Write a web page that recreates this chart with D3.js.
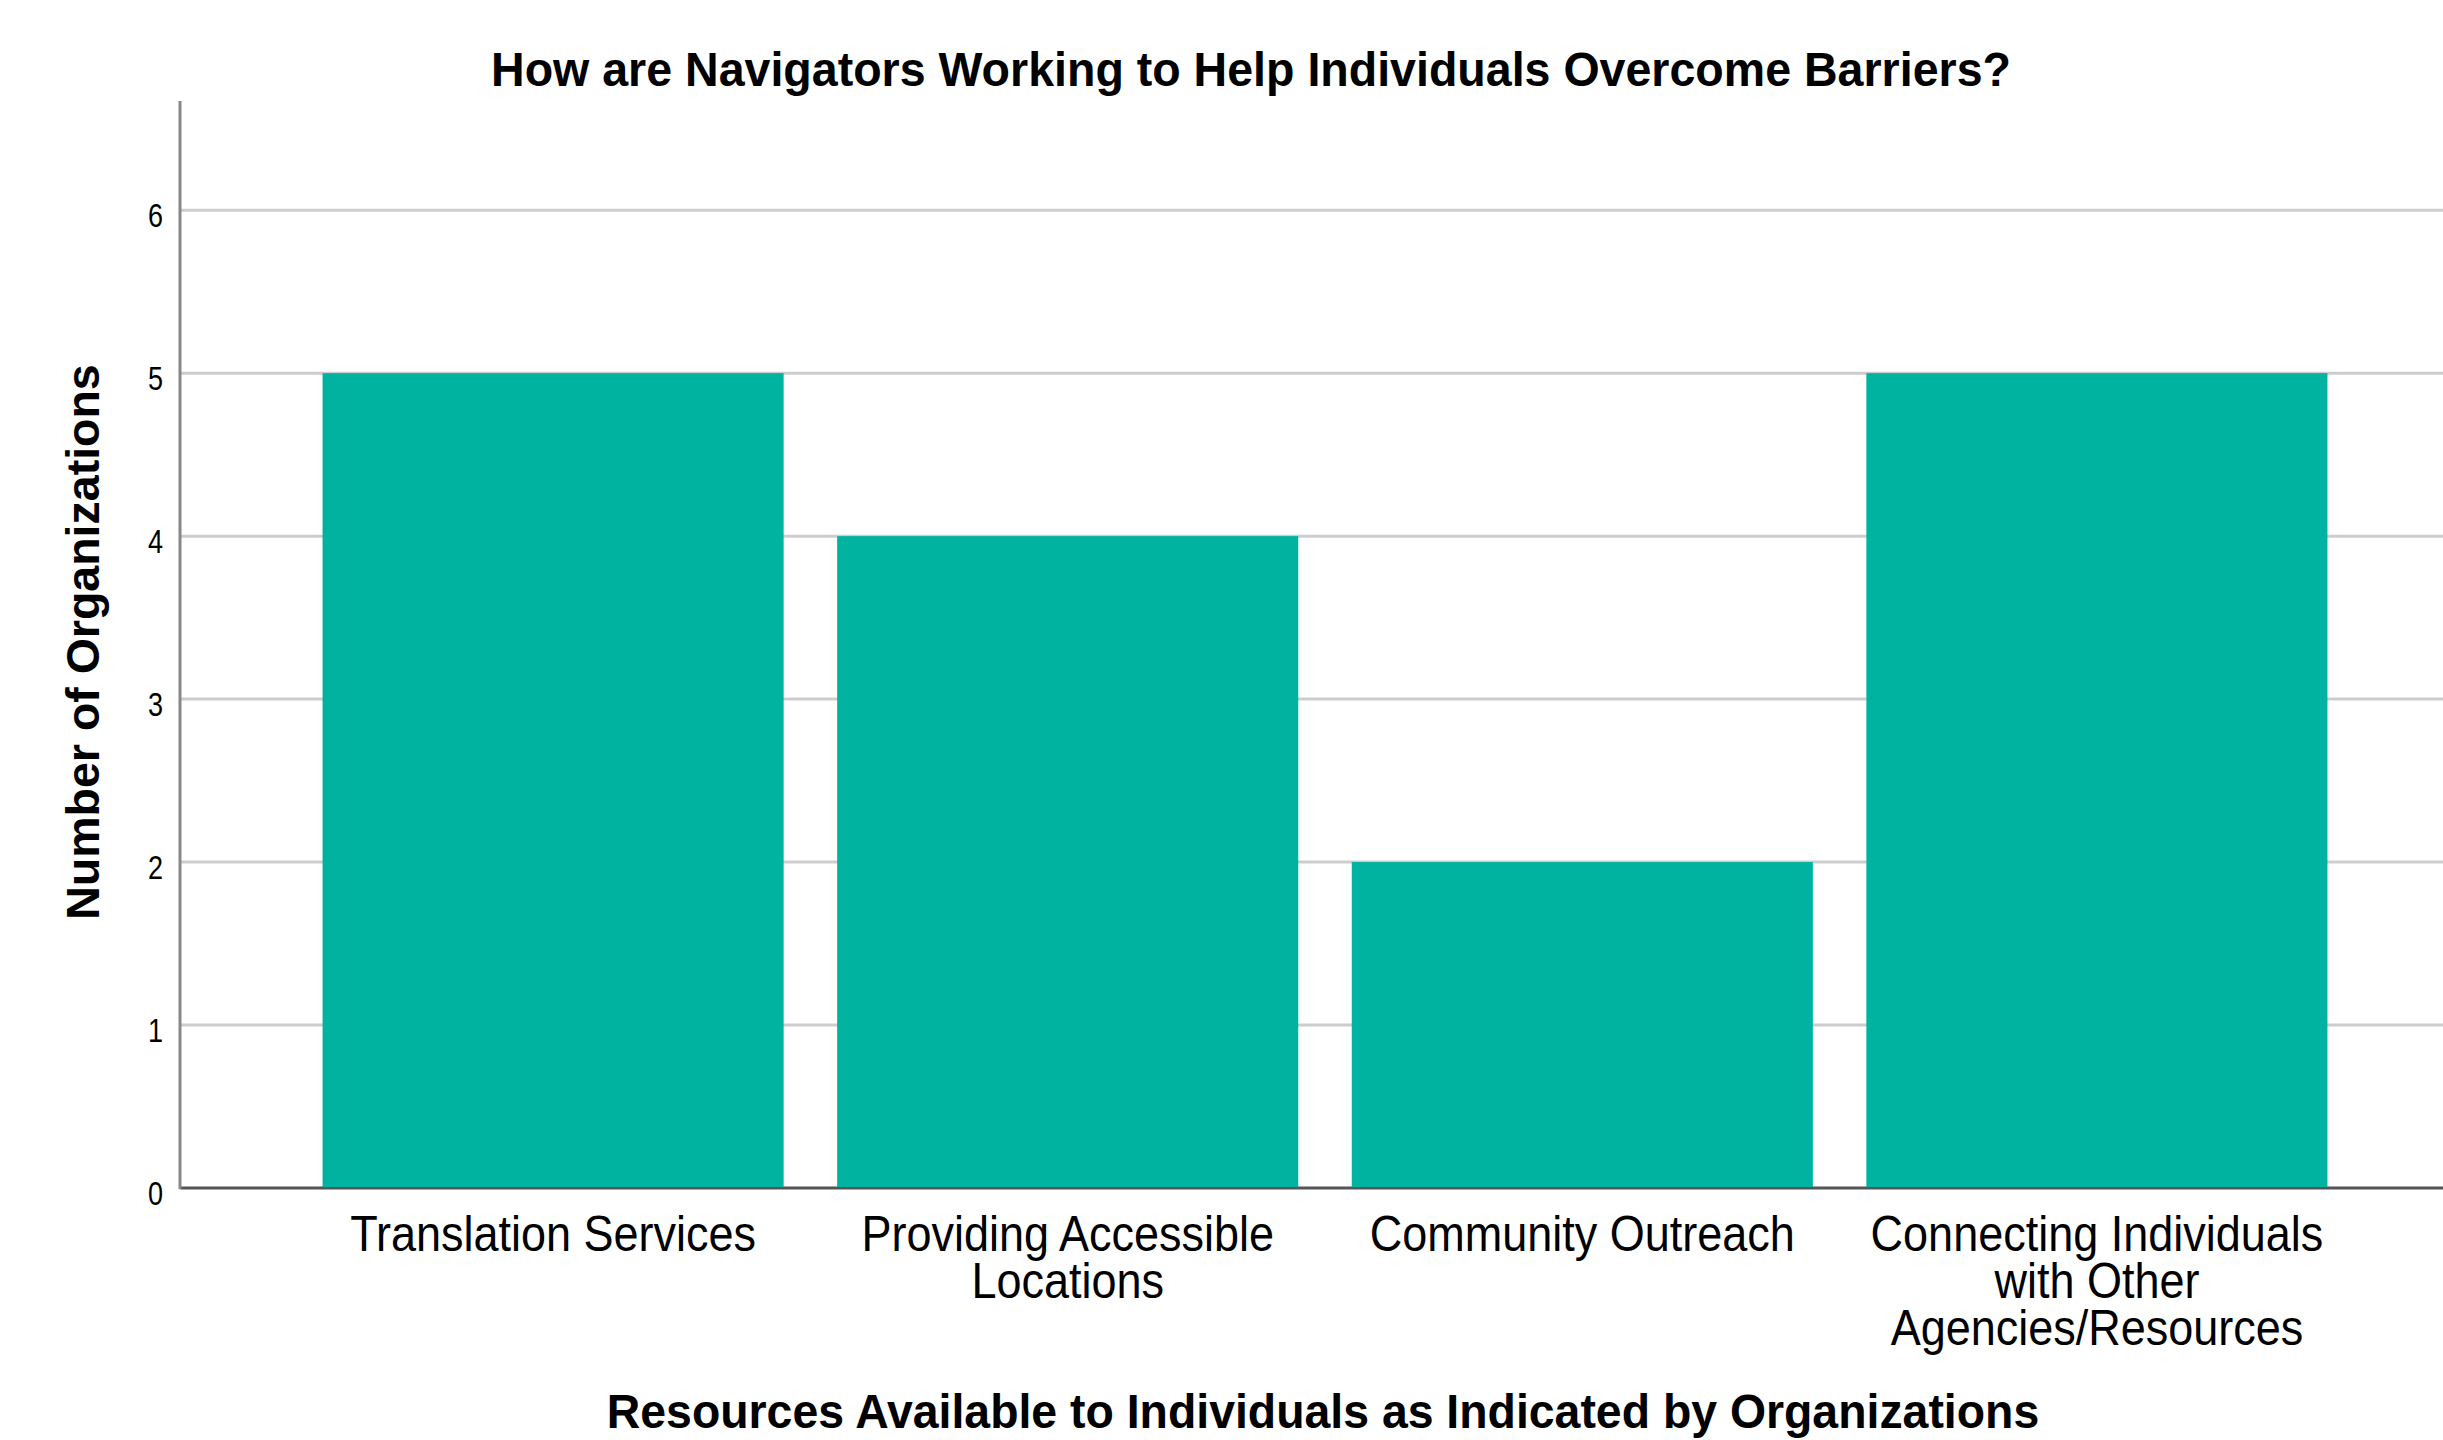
<!DOCTYPE html>
<html>
<head>
<meta charset="utf-8">
<script src="https://cdn.jsdelivr.net/npm/d3@7"></script>
<style>
  html, body { margin: 0; padding: 0; background: #fff; }
  text { font-family: "Liberation Sans", Arial, sans-serif; fill: #000; }
</style>
</head>
<body>
<div id="chart"></div>
<script>
// data
var categories = ["Translation Services", "Providing Accessible Locations", "Community Outreach", "Connecting Individuals with Other Agencies/Resources"];
var labelLines = [["Translation Services"], ["Providing Accessible", "Locations"], ["Community Outreach"], ["Connecting Individuals", "with Other", "Agencies/Resources"]];
var counts = [5, 4, 2, 5];
var yTicks = [0, 1, 2, 3, 4, 5, 6];

var chartTitle = "How are Navigators Working to Help Individuals Overcome Barriers?";
var xTitle = "Resources Available to Individuals as Indicated by Organizations";
var yTitle = "Number of Organizations";

function init() {
    var w = 2443;
    var h = 1440;

    var svg = d3.select("#chart")
        .append("svg")
        .attr("width", w)
        .attr("height", h);

    svg.append("rect").attr("width", w).attr("height", h).attr("fill", "#fff");

    var x = d3.scaleBand()
        .domain(categories)
        .range([180, 2470])
        .paddingInner(0.104)
        .paddingOuter(0.277);

    var y = d3.scaleLinear()
        .domain([0, 6.67])
        .range([1188, 101]);

    // gridlines
    svg.selectAll("line.grid")
        .data(yTicks.filter(function(d) { return d > 0; }))
        .enter()
        .append("line")
        .attr("class", "grid")
        .attr("x1", 180)
        .attr("x2", w)
        .attr("y1", function(d) { return y(d); })
        .attr("y2", function(d) { return y(d); })
        .attr("stroke", "#cdcdcd")
        .attr("stroke-width", 3);

    // baseline
    svg.append("line")
        .attr("x1", 180).attr("x2", w)
        .attr("y1", y(0)).attr("y2", y(0))
        .attr("stroke", "#555")
        .attr("stroke-width", 3);

    // bars
    svg.selectAll("rect.bar")
        .data(counts)
        .enter()
        .append("rect")
        .attr("class", "bar")
        .attr("x", function(d, i) { return x(categories[i]); })
        .attr("width", x.bandwidth())
        .attr("y", function(d) { return y(d); })
        .attr("height", function(d) { return y(0) - y(d) - 1; })
        .attr("fill", "#00b3a0");

    // y axis
    var yAxis = svg.append("g")
        .attr("transform", "translate(180,0)")
        .call(d3.axisLeft(y).tickValues(yTicks).tickFormat(d3.format("d")).tickSize(0).tickPadding(17));
    yAxis.select(".domain").remove();
    yAxis.selectAll("text")
        .style("font-family", '"Liberation Sans", Arial, sans-serif')
        .style("font-size", "33px")
        .attr("fill", "#000")
        .attr("x", -17 / 0.82)
        .attr("dy", "0.5em")
        .attr("transform", "scale(0.82,1)");

    svg.append("line")
        .attr("x1", 180).attr("x2", 180)
        .attr("y1", y.range()[1]).attr("y2", y(0) + 1)
        .attr("stroke", "#888")
        .attr("stroke-width", 3);

    // category labels
    var labels = svg.selectAll("text.cat")
        .data(categories)
        .enter()
        .append("text")
        .attr("class", "cat")
        .attr("transform", function(d) {
            return "translate(" + (x(d) + x.bandwidth() / 2) + ",1251) scale(0.9,1)";
        })
        .attr("text-anchor", "middle")
        .style("font-size", "50px");

    labels.selectAll("tspan")
        .data(function(d, i) { return labelLines[i]; })
        .enter()
        .append("tspan")
        .attr("x", 0)
        .attr("y", function(d, i) { return i * 47; })
        .text(function(d) { return d; });

    // titles
    svg.append("text")
        .attr("transform", "translate(1251,86) scale(0.97,1)")
        .attr("text-anchor", "middle")
        .style("font-size", "48px")
        .style("font-weight", "bold")
        .text(chartTitle);

    svg.append("text")
        .attr("transform", "translate(1323,1428) scale(0.947,1)")
        .attr("text-anchor", "middle")
        .style("font-size", "49px")
        .style("font-weight", "bold")
        .text(xTitle);

    svg.append("text")
        .attr("transform", "translate(99,642) rotate(-90)")
        .attr("text-anchor", "middle")
        .style("font-size", "46.5px")
        .style("font-weight", "bold")
        .text(yTitle);
}

window.onload = init;
</script>
</body>
</html>
